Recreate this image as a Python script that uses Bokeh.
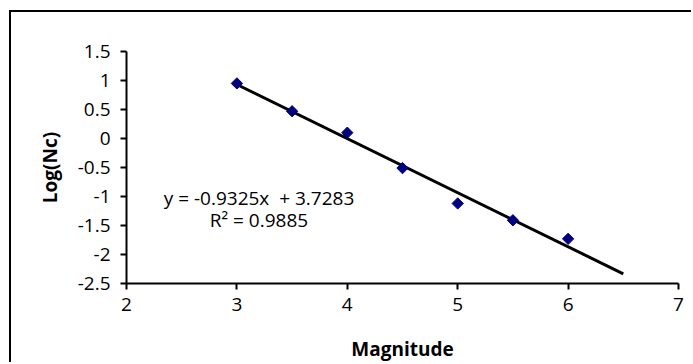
from bokeh.plotting import figure
from bokeh.models import Label, FixedTicker, Range1d
from bokeh.embed import file_html
from bokeh.resources import INLINE
import numpy as np

# Data
magnitude = [3.0, 3.5, 4.0, 4.5, 5.0, 5.5, 6.0]
log_nc = [0.95, 0.47, 0.10, -0.51, -1.12, -1.41, -1.73]

# Trendline (as reported by the chart)
slope = -0.9325
intercept = 3.7283
r_squared = 0.9885
trend_x = [3.0, 6.5]

x_ticks = [2, 3, 4, 5, 6, 7]
y_ticks = [-2.5, -2.0, -1.5, -1.0, -0.5, 0.0, 0.5, 1.0, 1.5]
y_tick_labels = ["-2.5", "-2", "-1.5", "-1", "-0.5", "0", "0.5", "1", "1.5"]
x_label = "Magnitude"
y_label = "Log(Nc)"

FONT = "Open Sans"
FS = "19px"

p = figure(width=682, height=352, output_backend="svg", toolbar_location=None,
           x_range=Range1d(2, 7), y_range=Range1d(-2.5, 1.5),
           min_border_left=115, min_border_right=15, min_border_top=39, min_border_bottom=77,
           margin=(10, 0, 0, 9))
p.styles = {"border-left": "2px solid black", "border-top": "2px solid black"}
p.outline_line_color = None
p.background_fill_color = "white"
p.border_fill_color = "white"
p.grid.visible = False

trend_y = [slope * x + intercept for x in trend_x]
p.line(trend_x, trend_y, line_color="black", line_width=3)
p.scatter(magnitude, log_nc, marker="square", size=8, angle=np.pi / 4,
          fill_color="#000080", line_color="#000080")

for ax in (p.xaxis[0], p.yaxis[0]):
    ax.axis_line_width = 2
    ax.axis_line_color = "black"
    ax.major_tick_line_width = 2
    ax.major_tick_line_color = "black"
    ax.major_tick_out = 6
    ax.major_tick_in = 0
    ax.minor_tick_out = 0
    ax.minor_tick_in = 0
    ax.major_label_text_font = FONT
    ax.major_label_text_font_size = FS
    ax.major_label_text_color = "black"
    ax.axis_label_text_font = FONT
    ax.axis_label_text_font_size = FS
    ax.axis_label_text_font_style = "bold"
    ax.axis_label_text_color = "black"

p.xaxis.ticker = FixedTicker(ticks=x_ticks)
p.yaxis.ticker = FixedTicker(ticks=y_ticks)
p.xaxis.major_label_overrides = {t: str(t) for t in x_ticks}
p.yaxis.major_label_overrides = dict(zip(y_ticks, y_tick_labels))
p.xaxis.major_label_standoff = 8
p.yaxis.major_label_standoff = 10
p.xaxis.axis_label = x_label
p.yaxis.axis_label = y_label
p.xaxis.axis_label_standoff = 22
p.yaxis.axis_label_standoff = 12

eq_text = f"y = {slope}x \u00a0+ {intercept}"
r2_text = f"R\u00b2 = {r_squared}"
p.add_layout(Label(x=3.2, y=-1.02, text=eq_text, text_align="center", text_baseline="middle",
                   text_font=FONT, text_font_size=FS, text_color="black"))
p.add_layout(Label(x=3.2, y=-1.41, text=r2_text, text_align="center", text_baseline="middle",
                   text_font=FONT, text_font_size=FS, text_color="black"))

open("out.html", "w").write(file_html(p, INLINE))
